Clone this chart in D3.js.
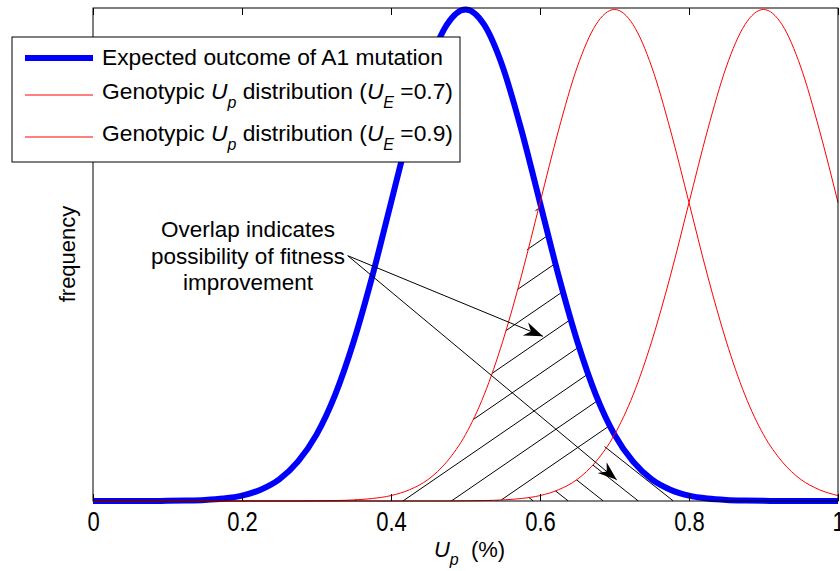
<!DOCTYPE html>
<html>
<head>
<meta charset="utf-8">
<script src="https://cdn.jsdelivr.net/npm/d3@7"></script>
<style>
  body { margin: 0; background: #fff; }
  text { font-family: Arial, "Liberation Sans", Helvetica, sans-serif; white-space: pre; }
</style>
</head>
<body>
<div id="chart"></div>
<script>
const upValues = [0, 0.025, 0.05, 0.075, 0.1, 0.125, 0.15, 0.175, 0.2, 0.225,
  0.25, 0.275, 0.3, 0.325, 0.35, 0.375, 0.4, 0.425, 0.45, 0.475,
  0.5, 0.525, 0.55, 0.575, 0.6, 0.625, 0.65, 0.675, 0.7, 0.725,
  0.75, 0.775, 0.8, 0.825, 0.85, 0.875, 0.9, 0.925, 0.95, 0.975, 1];

// Expected outcome of A1 mutation
const outcomeA1 = [0, 0, 0, 0, 0.0003, 0.0009, 0.0022, 0.0051, 0.011, 0.023,
  0.044, 0.080, 0.135, 0.216, 0.325, 0.458, 0.607, 0.755, 0.883, 0.969,
  1.0, 0.969, 0.883, 0.755, 0.607, 0.458, 0.325, 0.216, 0.135, 0.080,
  0.044, 0.023, 0.011, 0.0051, 0.0022, 0.0009, 0.0003, 0, 0, 0, 0];

// Genotypic Up distribution, UE = 0.7
const genotypic07 = [0, 0, 0, 0, 0, 0, 0, 0, 0, 0,
  0, 0, 0.0003, 0.0009, 0.0022, 0.0051, 0.011, 0.023, 0.044, 0.080,
  0.135, 0.216, 0.325, 0.458, 0.607, 0.755, 0.883, 0.969, 1.0, 0.969,
  0.883, 0.755, 0.607, 0.458, 0.325, 0.216, 0.135, 0.080, 0.044, 0.023, 0.011];

// Genotypic Up distribution, UE = 0.9
const genotypic09 = [0, 0, 0, 0, 0, 0, 0, 0, 0, 0,
  0, 0, 0, 0, 0, 0, 0, 0, 0, 0,
  0.0003, 0.0009, 0.0022, 0.0051, 0.011, 0.023, 0.044, 0.080, 0.135, 0.216,
  0.325, 0.458, 0.607, 0.755, 0.883, 0.969, 1.0, 0.969, 0.883, 0.755, 0.607];

const xTicks = [0, 0.2, 0.4, 0.6, 0.8, 1];
const xTickLabels = ["0", "0.2", "0.4", "0.6", "0.8", "1"];

// annotation: text anchor and arrow tips, in data units
const arrowFrom = [0.342, 0.499];
const arrowTips = [[0.604, 0.335], [0.703, 0.043]];
const noteLines = ["Overlap indicates", "possibility of fitness", "improvement"];

const svg = d3.select("#chart")
  .append("svg")
  .attr("width", 840)
  .attr("height", 571);

const mLeft = 93, mTop = 8, w = 745, h = 493;
const g = svg.append("g").attr("transform", `translate(${mLeft}, ${mTop})`);

const x = d3.scaleLinear().domain([0, 1]).range([0, w]);
const y = d3.scaleLinear().domain([0, 1.003]).range([h, 0]);

const rows = upValues.map((u, i) => ({
  u: u,
  a1: outcomeA1[i],
  g7: genotypic07[i],
  g9: genotypic09[i]
}));

const line = key => d3.line()
  .x(d => x(d.u))
  .y(d => y(d[key]))
  .curve(d3.curveMonotoneX);

// clip regions for the two hatches
const defs = svg.append("defs");
const areaA = d3.area()
  .x(d => x(d.u))
  .y0(d => y(Math.min(d.a1, d.g9)))
  .y1(d => y(Math.min(d.a1, d.g7)))
  .curve(d3.curveMonotoneX);
const areaB = d3.area()
  .x(d => x(d.u))
  .y0(y(0))
  .y1(d => y(Math.min(d.a1, d.g9)))
  .curve(d3.curveMonotoneX);
defs.append("clipPath").attr("id", "clipA").append("path").attr("d", areaA(rows));
defs.append("clipPath").attr("id", "clipB").append("path").attr("d", areaB(rows));

// "/" hatch over overlap with UE=0.7
const hatchA = g.append("g").attr("clip-path", "url(#clipA)");
d3.range(-12, 12).forEach(k => {
  const c = 0.416 + k * 0.065;
  hatchA.append("line")
    .attr("x1", x(c)).attr("y1", y(0))
    .attr("x2", x(c + 1)).attr("y2", y(1.04))
    .attr("stroke", "#000").attr("stroke-width", 1);
});

// "\" hatch over overlap with UE=0.9
const hatchB = g.append("g").attr("clip-path", "url(#clipB)");
d3.range(-12, 12).forEach(k => {
  const c = 0.638 + k * 0.047;
  hatchB.append("line")
    .attr("x1", x(c)).attr("y1", y(0))
    .attr("x2", x(c - 0.5)).attr("y2", y(0.6))
    .attr("stroke", "#000").attr("stroke-width", 1);
});

// curves
g.append("path").datum(rows)
  .attr("d", line("a1"))
  .attr("fill", "none").attr("stroke", "#0000ff").attr("stroke-width", 6);
g.append("path").datum(rows)
  .attr("d", line("g7"))
  .attr("fill", "none").attr("stroke", "#ff0000").attr("stroke-width", 1);
g.append("path").datum(rows)
  .attr("d", line("g9"))
  .attr("fill", "none").attr("stroke", "#ff0000").attr("stroke-width", 1);

// axes: ticks inward top and bottom
const xAxis = g.append("g")
  .attr("transform", `translate(0, ${h})`)
  .call(d3.axisBottom(x).tickValues(xTicks)
    .tickFormat((d, i) => xTickLabels[i])
    .tickSize(-7));
xAxis.select(".domain").remove();
// labels in the figure are a bit taller than normal
xAxis.selectAll("text")
  .attr("y", 0).attr("dy", 0)
  .attr("transform", "translate(0, 30) scale(1, 1.25)")
  .style("font-size", "22px").attr("fill", "#000");

const xTop = g.append("g")
  .call(d3.axisTop(x).tickValues(xTicks).tickFormat("").tickSize(-7));
xTop.select(".domain").remove();

g.append("rect")
  .attr("x", 0).attr("y", 0).attr("width", w).attr("height", h)
  .attr("fill", "none").attr("stroke", "#000").attr("stroke-width", 1);

// axis labels
const xl = svg.append("text")
  .attr("x", mLeft + w / 2 + 4).attr("y", 557)
  .attr("text-anchor", "middle")
  .style("font-size", "22px");
xl.append("tspan").text("U").style("font-style", "italic");
xl.append("tspan").text("p").style("font-style", "italic").style("font-size", "16px").attr("dy", 8);
xl.append("tspan").text("  (%)").attr("dy", -8);

svg.append("text")
  .attr("transform", "translate(75, 254) rotate(-90)")
  .attr("text-anchor", "middle")
  .style("font-size", "22px")
  .text("frequency");

// annotation text and arrows
const note = g.append("text")
  .attr("text-anchor", "middle")
  .style("font-size", "22.5px");
noteLines.forEach((t, i) => {
  note.append("tspan")
    .attr("x", 248 - mLeft)
    .attr("y", 237 - mTop + i * 26.5)
    .text(t);
});

arrowTips.forEach(tip => {
  const x1 = x(arrowFrom[0]), y1 = y(arrowFrom[1]);
  const x2 = x(tip[0]), y2 = y(tip[1]);
  const ang = Math.atan2(y2 - y1, x2 - x1) * 180 / Math.PI;
  g.append("line")
    .attr("x1", x1).attr("y1", y1).attr("x2", x2).attr("y2", y2)
    .attr("stroke", "#000").attr("stroke-width", 1);
  g.append("path")
    .attr("d", "M0,0 L-19,-7 L-13,0 L-19,7 Z")
    .attr("transform", `translate(${x2}, ${y2}) rotate(${ang})`)
    .attr("fill", "#000");
});

// legend
const legend = svg.append("g");
legend.append("rect")
  .attr("x", 12).attr("y", 37).attr("width", 448).attr("height", 125)
  .attr("fill", "#fff").attr("stroke", "#000").attr("stroke-width", 1);

const legendItems = [
  { color: "#0000ff", width: 6, lineY: 58, textY: 65, ue: null },
  { color: "#ff0000", width: 1, lineY: 95, textY: 99, ue: "0.7" },
  { color: "#ff0000", width: 1, lineY: 137, textY: 141, ue: "0.9" }
];
legendItems.forEach(item => {
  legend.append("line")
    .attr("x1", 25).attr("x2", 93)
    .attr("y1", item.lineY).attr("y2", item.lineY)
    .attr("stroke", item.color).attr("stroke-width", item.width);
  const t = legend.append("text")
    .attr("x", 102).attr("y", item.textY)
    .style("font-size", "22.8px");
  if (item.ue === null) {
    t.text("Expected outcome of A1 mutation");
  } else {
    t.append("tspan").text("Genotypic ");
    t.append("tspan").text("U").style("font-style", "italic");
    t.append("tspan").text("p").style("font-style", "italic").style("font-size", "16px").attr("dy", 9);
    t.append("tspan").text(" distribution (").attr("dy", -9);
    t.append("tspan").text("U").style("font-style", "italic");
    t.append("tspan").text("E").style("font-style", "italic").style("font-size", "16px").attr("dy", 9);
    t.append("tspan").text(" =" + item.ue + ")").attr("dy", -9);
  }
});
</script>
</body>
</html>
